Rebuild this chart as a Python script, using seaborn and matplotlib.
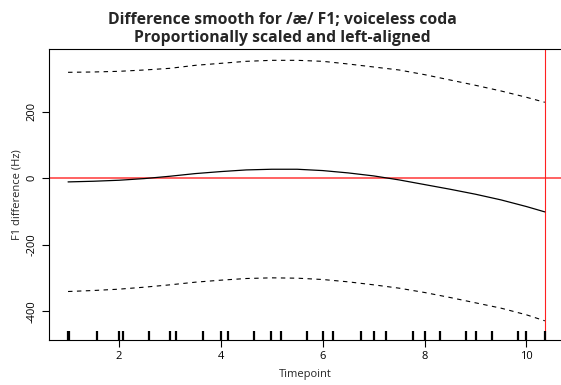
import numpy as np
import pandas as pd
import matplotlib
matplotlib.use("Agg")
import matplotlib.pyplot as plt
import seaborn as sns

# ---- data ----
timepoint = [1, 1.5, 2, 2.5, 3, 3.5, 4, 4.5, 5, 5.5, 6, 6.5, 7, 7.5, 8, 8.5, 9, 9.5, 10, 10.36]
diff_est = [-11, -9, -6, -1, 6, 14, 20, 25, 27, 27, 23, 16, 7, -5, -19, -33, -48, -65, -85, -101]
ci_upper = [318, 319, 321, 325, 330, 339, 345, 351, 354, 354, 351, 343, 334, 325, 311, 295, 279, 262, 243, 228]
ci_lower = [-340, -337, -333, -327, -320, -312, -306, -301, -299, -300, -304, -311, -320, -330, -343, -358, -374, -390, -410, -428]
rug_x = [1.0, 1.02, 1.565, 2.0, 2.07, 2.59, 3.01, 3.12, 3.64, 4.0, 4.14, 4.66, 4.99, 5.19,
         5.70, 6.0, 6.21, 6.75, 7.0, 7.25, 7.77, 8.0, 8.30, 8.82, 9.0, 9.33, 9.83, 10.0, 10.36]
x_ticks = [2, 4, 6, 8, 10]
y_ticks = [-400, -200, 0, 200]
end_point = 10.36

title_text = "Difference smooth for /æ/ F1; voiceless coda\nProportionally scaled and left-aligned"
xlab = "Timepoint"
ylab = "F1 difference (Hz)"

df = pd.DataFrame({"t": timepoint, "est": diff_est, "up": ci_upper, "lo": ci_lower})
rug = pd.DataFrame({"t": rug_x})

sns.set_style("white")
plt.rcParams["font.family"] = ["Open Sans", "DejaVu Sans"]

fig = plt.figure(figsize=(5.61, 3.85), dpi=100)
ax = fig.add_axes([49 / 561, 45 / 385, 1 - 49 / 561 + 0.002, (340 - 49) / 385])

sns.lineplot(data=df, x="t", y="est", ax=ax, color="black", linewidth=0.9)
sns.lineplot(data=df, x="t", y="up", ax=ax, color="black", linewidth=0.8, linestyle=(0, (4, 4)))
sns.lineplot(data=df, x="t", y="lo", ax=ax, color="black", linewidth=0.8, linestyle=(0, (4, 4)))

ax.axhline(0, color="#ff5050", linewidth=1.4, alpha=0.9, zorder=1)
ax.axvline(end_point, color="#ff2020", linewidth=0.8, zorder=1)

sns.rugplot(data=rug, x="t", ax=ax, height=0.031, color="black", linewidth=1.6, clip_on=False)

ax.set_xlim(0.626, 10.70)
ax.set_ylim(-485.6, 388)
ax.set_xticks(x_ticks)
ax.set_yticks(y_ticks)
ax.set_yticklabels([str(v) for v in y_ticks], rotation=90, va="center")
ax.tick_params(axis="both", which="both", direction="out", length=5, width=0.8,
               labelsize=8, colors="black", pad=3, bottom=True, left=True)
ax.set_xlabel(xlab, fontsize=8, labelpad=5)
ax.set_ylabel(ylab, fontsize=8, labelpad=3)
fig.text(282 / 561, 1 - 29 / 385, title_text, ha="center", va="center",
         fontsize=11.3, fontweight="bold", linespacing=1.2)

for s in ["left", "top", "bottom"]:
    ax.spines[s].set_visible(True)
    ax.spines[s].set_color("black")
    ax.spines[s].set_linewidth(0.8)
ax.spines["right"].set_visible(False)

fig.savefig("out.png", dpi=100)
